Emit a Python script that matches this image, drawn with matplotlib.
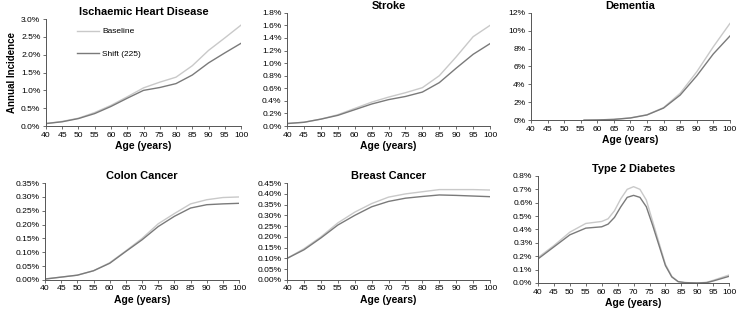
import matplotlib
matplotlib.use("Agg")
import matplotlib.pyplot as plt
import numpy as np
from matplotlib.ticker import FuncFormatter, MultipleLocator

plt.rcParams["font.family"] = ["Liberation Sans", "DejaVu Sans"]

# ages (years)
ages = [40, 45, 50, 55, 60, 65, 70, 75, 80, 85, 90, 95, 100]

# annual incidence (%)
ihd_base = [0.07, 0.13, 0.22, 0.38, 0.58, 0.82, 1.07, 1.23, 1.37, 1.69, 2.12, 2.47, 2.83]
ihd_shift = [0.07, 0.12, 0.21, 0.35, 0.55, 0.78, 1.00, 1.08, 1.19, 1.43, 1.77, 2.05, 2.32]

stroke_base = [0.04, 0.06, 0.11, 0.18, 0.28, 0.38, 0.46, 0.53, 0.61, 0.80, 1.10, 1.42, 1.60]
stroke_shift = [0.04, 0.06, 0.11, 0.17, 0.26, 0.35, 0.42, 0.47, 0.54, 0.69, 0.92, 1.14, 1.31]

dem_ages = [56, 60, 65, 70, 75, 80, 85, 90, 95, 100]
dem_base = [0.0, 0.02, 0.08, 0.25, 0.60, 1.40, 3.00, 5.40, 8.20, 10.8]
dem_shift = [0.0, 0.02, 0.08, 0.24, 0.58, 1.35, 2.80, 4.95, 7.40, 9.40]

colon_base = [0.003, 0.010, 0.017, 0.033, 0.062, 0.105, 0.150, 0.203, 0.240, 0.275, 0.290, 0.298, 0.300]
colon_shift = [0.003, 0.010, 0.017, 0.033, 0.060, 0.103, 0.145, 0.193, 0.230, 0.260, 0.272, 0.275, 0.277]

breast_base = [0.100, 0.145, 0.200, 0.265, 0.315, 0.355, 0.385, 0.400, 0.410, 0.420, 0.420, 0.420, 0.418]
breast_shift = [0.100, 0.140, 0.195, 0.255, 0.300, 0.340, 0.365, 0.380, 0.388, 0.395, 0.393, 0.390, 0.387]

t2d_ages = [40, 45, 50, 55, 60, 62, 64, 66, 68, 70, 72, 74, 76, 78, 80, 82, 84, 86, 90, 93, 95, 100]
t2d_base = [0.19, 0.28, 0.38, 0.445, 0.46, 0.48, 0.54, 0.63, 0.70, 0.72, 0.70, 0.62, 0.46, 0.30,
            0.14, 0.05, 0.01, 0.003, 0.0, 0.005, 0.02, 0.06]
t2d_shift = [0.18, 0.27, 0.36, 0.41, 0.42, 0.44, 0.49, 0.57, 0.64, 0.655, 0.64, 0.57, 0.43, 0.28,
             0.13, 0.045, 0.01, 0.003, 0.0, 0.003, 0.015, 0.05]

BASE_COLOR = "#c9c9c9"
SHIFT_COLOR = "#7a7a7a"

panels = [
    # title, x, base, shift, ymax, ystep, decimals, axes rect
    ("Ischaemic Heart Disease", ages, ihd_base, ihd_shift, 3.0, 0.5, 1, [0.0623, 0.596, 0.2643, 0.343]),
    ("Stroke", ages, stroke_base, stroke_shift, 1.8, 0.2, 1, [0.389, 0.596, 0.275, 0.363]),
    ("Dementia", dem_ages, dem_base, dem_shift, 12, 2, 0, [0.7195, 0.615, 0.2695, 0.344]),
    ("Colon Cancer", ages, colon_base, colon_shift, 0.35, 0.05, 2, [0.061, 0.103, 0.263, 0.310]),
    ("Breast Cancer", ages, breast_base, breast_shift, 0.45, 0.05, 2, [0.389, 0.103, 0.275, 0.310]),
    ("Type 2 Diabetes", t2d_ages, t2d_base, t2d_shift, 0.8, 0.1, 1, [0.729, 0.093, 0.259, 0.343]),
]

fig = plt.figure(figsize=(7.38, 3.12), dpi=100)

for i, (title, x, base, shift, ymax, ystep, dec, rect) in enumerate(panels):
    ax = fig.add_axes(rect)
    ax.plot(x, base, color=BASE_COLOR, lw=1.0, label="Baseline")
    ax.plot(x, shift, color=SHIFT_COLOR, lw=1.0, label="Shift (225)")
    ax.set_xlim(40, 100)
    ax.set_ylim(0, ymax)
    ax.xaxis.set_major_locator(MultipleLocator(5))
    ax.yaxis.set_major_locator(MultipleLocator(ystep))
    ax.yaxis.set_major_formatter(FuncFormatter(lambda v, p, d=dec: f"{v:.{d}f}%"))
    for s in ["top", "right"]:
        ax.spines[s].set_visible(False)
    for s in ["left", "bottom"]:
        ax.spines[s].set_color("#555555")
        ax.spines[s].set_linewidth(0.7)
    ax.tick_params(labelsize=6.1, length=2.5, width=0.6, color="#555555", pad=1.5)
    ax.set_title(title, fontsize=7.9, fontweight="bold", pad=3)
    ax.set_xlabel("Age (years)", fontsize=7.5, fontweight="bold", labelpad=2)
    if i == 0:
        ax.set_ylabel("Annual Incidence", fontsize=7, fontweight="bold", labelpad=3)
        ax.legend(loc="upper left", bbox_to_anchor=(0.12, 0.99), frameon=False,
                  fontsize=6, labelspacing=1.8, handlelength=2.6, handletextpad=0.4)

plt.savefig("out.png", dpi=100)
